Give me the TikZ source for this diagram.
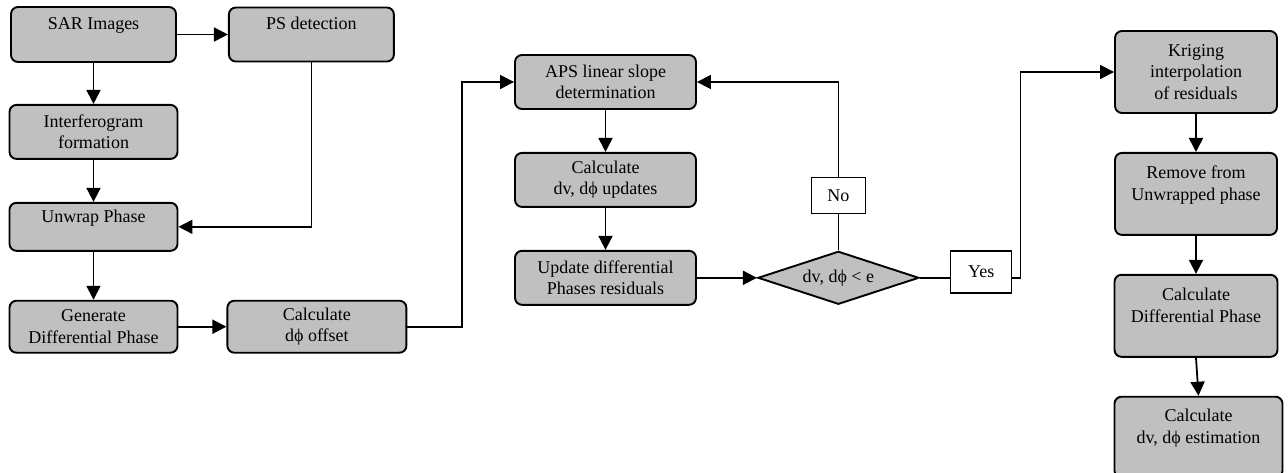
\documentclass[tikz,border=0pt]{standalone}
\usepackage{fontspec}
\setmainfont{Liberation Serif}
\usetikzlibrary{arrows.meta, positioning, shapes.geometric}
\definecolor{boxgray}{RGB}{192,192,192}

\begin{document}
\begin{tikzpicture}[x=1pt, y=-1pt, >={Triangle[length=14pt,width=14pt]},
		every node/.style={font=\rmfamily\fontsize{18}{21.5}\selectfont},
		procbox/.style={draw, fill=boxgray, line width=1.9pt, rounded corners=7pt, align=center, inner sep=2pt},
		decision/.style={draw, diamond, fill=boxgray, line width=1.9pt, aspect=3, inner sep=0pt, minimum width=161pt, minimum height=53pt},
		tagbox/.style={draw, fill=white, line width=1.6pt, inner sep=2pt},
		link/.style={line width=1.8pt}]
	\useasboundingbox (0,0) rectangle (1288,472);
	
	% First column and PS detection
	\node[procbox, minimum width=165pt, minimum height=55pt] (sar) at (93.5,34.5) {SAR Images\\\mbox{}};
	\node[procbox, right=51pt of sar, minimum width=165pt, minimum height=54pt] (ps) {PS detection\\\mbox{}};
	\node[procbox, below=41pt of sar, minimum width=168pt, minimum height=54pt] (intf) {Interferogram\\formation};
	\node[procbox, below=42pt of intf, minimum width=168pt, minimum height=48pt] (unwrap) {Unwrap Phase\\\mbox{}};
	\node[procbox, below=48pt of unwrap, minimum width=168pt, minimum height=52pt] (gen) {Generate\\Differential Phase};
	\node[procbox, right=48pt of gen, minimum width=179pt, minimum height=52pt] (offset) {Calculate\\dϕ\ offset};
	
	% Iteration loop
	\node[procbox, minimum width=181pt, minimum height=54pt] (aps) at (605.5,82) {APS linear slope\\determination};
	\node[procbox, below=42pt of aps, minimum width=181pt, minimum height=54pt] (upd) {Calculate\\dv, dϕ\ updates};
	\node[procbox, below=42pt of upd, minimum width=181pt, minimum height=54pt] (resid) {Update differential\\Phases residuals};
	\node[decision, right=60pt of resid] (cond) {dv, dϕ\ {\textless} e};
	\node[tagbox, above=36pt of cond, minimum width=54pt, minimum height=36pt] (no) {No};
	\node[tagbox, right=30pt of cond, yshift=6pt, minimum width=61pt, minimum height=42pt] (yes) {Yes};
	
	% Last column
	\node[procbox, minimum width=162pt, minimum height=82pt] (krig) at (1196,72) {Kriging\\interpolation\\of residuals};
	\node[procbox, below=38pt of krig, minimum width=162pt, minimum height=82pt] (remove) {Remove from\\Unwrapped phase\\\mbox{}};
	\node[procbox, below=38pt of remove, minimum width=163pt, minimum height=82pt] (cdiff) {Calculate\\Differential Phase\\\mbox{}};
	\node[procbox, below=38pt of cdiff, minimum width=168pt, minimum height=81pt, xshift=2.5pt] (cest) {Calculate\\dv, dϕ\ estimation\\\mbox{}};
	
	% Arrows
	\draw[->, link] (sar) -- (ps);
	\draw[->, link] (sar.south -| intf) -- (intf);
	\draw[->, link] (ps.south) |- (unwrap.east);
	\draw[->, link] (intf) -- (unwrap);
	\draw[->, link] (unwrap) -- (gen);
	\draw[->, link] (gen) -- (offset);
	\draw[->, link] (offset.east) -- ++(55,0) |- (aps.west);
	\draw[->, link] (aps) -- (upd);
	\draw[->, link] (upd) -- (resid);
	\draw[->, link] (resid) -- (cond);
	\draw[link] (cond.north) -- (no.south);
	\draw[->, link] (no.north) |- (aps.east);
	\draw[link] (cond.east) -- (cond.east -| yes.west);
	\draw[->, link] (cond.east -| yes.east) -- ++(8,0) |- (krig.west);
	\draw[->, link] (krig) -- (remove);
	\draw[->, link] (remove) -- (remove.south |- cdiff.north);
	\draw[->, link] (cdiff.south) -- (cest.north);
\end{tikzpicture}
\end{document}
